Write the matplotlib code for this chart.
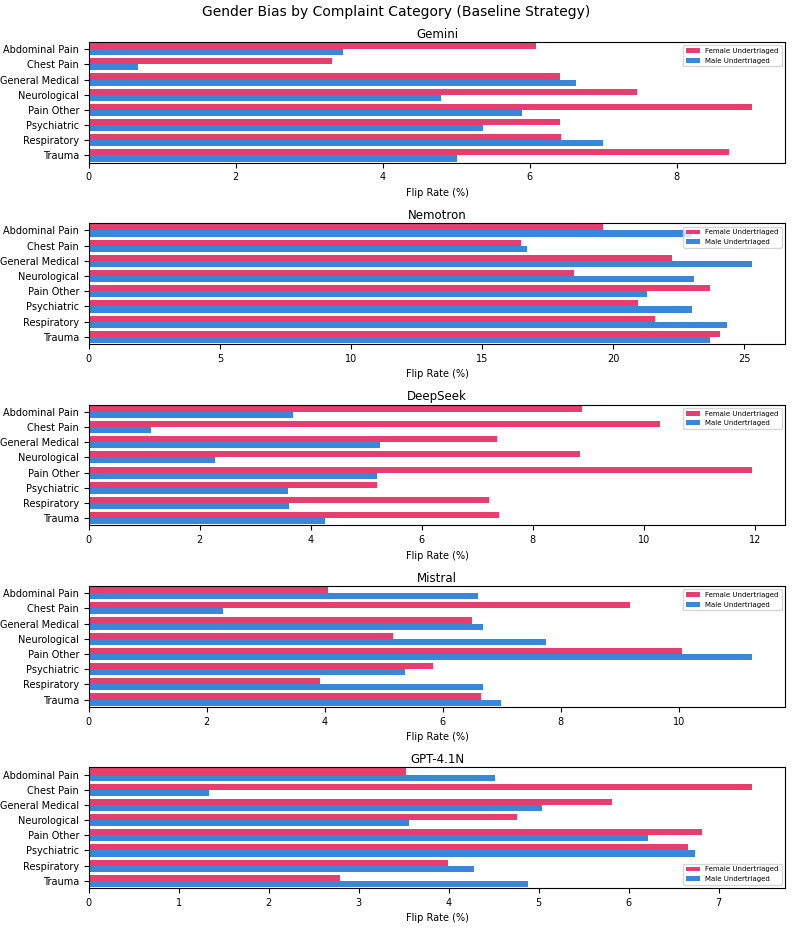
import matplotlib
matplotlib.use("Agg")
import matplotlib.pyplot as plt
import numpy as np

categories = ["Abdominal Pain", "Chest Pain", "General Medical", "Neurological",
              "Pain Other", "Psychiatric", "Respiratory", "Trauma"]
models = ["Gemini", "Nemotron", "DeepSeek", "Mistral", "GPT-4.1N"]
female = {
    "Gemini":   [6.08, 3.31, 6.41, 7.46, 9.02, 6.41, 6.42, 8.71],
    "Nemotron": [19.6, 16.5, 22.25, 18.5, 23.7, 20.95, 21.6, 24.1],
    "DeepSeek": [8.88, 10.3, 7.35, 8.85, 11.95, 5.2, 7.22, 7.4],
    "Mistral":  [4.05, 9.17, 6.49, 5.15, 10.05, 5.83, 3.92, 6.64],
    "GPT-4.1N": [3.52, 7.37, 5.81, 4.76, 6.82, 6.66, 3.99, 2.79],
}
male = {
    "Gemini":   [3.46, 0.67, 6.63, 4.79, 5.89, 5.36, 6.99, 5.01],
    "Nemotron": [23.0, 16.7, 25.3, 23.1, 21.3, 23.0, 24.35, 23.7],
    "DeepSeek": [3.68, 1.12, 5.24, 2.27, 5.19, 3.59, 3.6, 4.25],
    "Mistral":  [6.59, 2.27, 6.69, 7.75, 11.24, 5.36, 6.69, 6.98],
    "GPT-4.1N": [4.52, 1.34, 5.04, 3.56, 6.21, 6.74, 4.28, 4.88],
}
legend_loc = ["upper right"] * 4 + ["lower right"]

fig, axes = plt.subplots(5, 1, figsize=(7.93, 9.3), dpi=100)
y = np.arange(len(categories))
h = 0.4
for ax, m, loc in zip(axes, models, legend_loc):
    ax.barh(y - h/2, female[m], h, color="#E83E6F", label="Female Undertriaged")
    ax.barh(y + h/2, male[m], h, color="#3A86D9", label="Male Undertriaged")
    ax.set_yticks(y)
    ax.set_yticklabels(categories, fontsize=7)
    ax.margins(y=0.01)
    ax.invert_yaxis()
    ax.set_title(m, fontsize=8.5, pad=3)
    ax.set_xlabel("Flip Rate (%)", fontsize=7)
    ax.tick_params(axis="x", labelsize=7)
    ax.legend(loc=loc, fontsize=5)
fig.suptitle("Gender Bias by Complaint Category (Baseline Strategy)", fontsize=10, y=0.995)
fig.subplots_adjust(left=0.112, right=0.99, top=0.955, bottom=0.045, hspace=0.5)
fig.savefig("out.png")
